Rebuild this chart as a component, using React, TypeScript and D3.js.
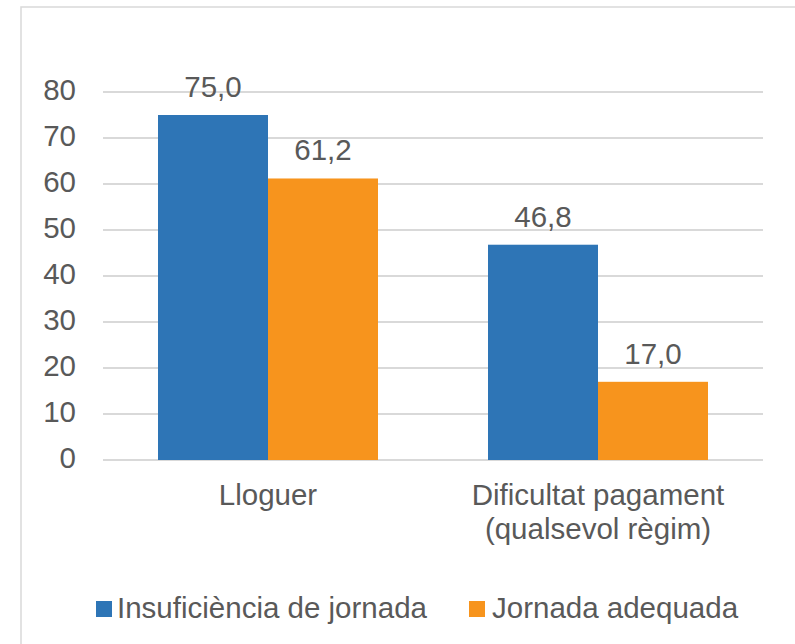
import React from "react";
import * as d3 from "d3";

const categories = ["Lloguer", "Dificultat pagament|(qualsevol règim)"];
const seriesNames = ["Insuficiència de jornada", "Jornada adequada"];
const insuficiencia = [75.0, 46.8];
const adequada = [61.2, 17.0];
const yTicks = [0, 10, 20, 30, 40, 50, 60, 70, 80];
const colors = ["#2E75B6", "#F7941D"];

const W = 795;
const H = 644;
const plot = { left: 103, right: 763, top: 92, bottom: 460 };
const FONT = "'Liberation Sans', Arial, sans-serif";
const TXT = "#595959";
const FS = 29.5;

export default function App() {
  const x0 = d3.scaleBand().domain(categories).range([plot.left, plot.right]).paddingInner(1 / 3).paddingOuter(1 / 6);
  const x1 = d3.scaleBand().domain(seriesNames).range([0, x0.bandwidth()]);
  const y = d3.scaleLinear().domain([0, 80]).range([plot.bottom, plot.top]);
  const series = [insuficiencia, adequada];
  const fmt = (v: number) => v.toFixed(1).replace(".", ",");

  return (
    <svg width={W} height={H} style={{ position: "absolute", left: 0, top: 0, background: "#fff" }} fontFamily={FONT}>
      <rect x={21} y={7} width={W} height={H} fill="#fff" stroke="#d9d9d9" strokeWidth={1.5} />
      {yTicks.map((t) => (
        <g key={t}>
          <line x1={plot.left} x2={plot.right} y1={y(t)} y2={y(t)} stroke="#d9d9d9" strokeWidth={2} />
          <text x={76} y={y(t) + 8} textAnchor="end" fontSize={FS} fill={TXT}>{t}</text>
        </g>
      ))}
      {categories.map((c, ci) => (
        <g key={c}>
          {seriesNames.map((s, si) => {
            const v = series[si][ci];
            const bx = (x0(c) ?? 0) + (x1(s) ?? 0);
            return (
              <g key={s}>
                <rect x={bx} y={y(v)} width={x1.bandwidth()} height={y(0) - y(v)} fill={colors[si]} />
                <text x={bx + x1.bandwidth() / 2} y={y(v) - 18} textAnchor="middle" fontSize={FS} fill={TXT}>{fmt(v)}</text>
              </g>
            );
          })}
          {c.split("|").map((line, li) => (
            <text key={li} x={(x0(c) ?? 0) + x0.bandwidth() / 2} y={505 + li * 34} textAnchor="middle" fontSize={FS} fill={TXT}>{line}</text>
          ))}
        </g>
      ))}
      <g>
        <rect x={96} y={601} width={16} height={16} fill={colors[0]} />
        <text x={117} y={618} fontSize={FS} fill={TXT}>{seriesNames[0]}</text>
        <rect x={469} y={601} width={16} height={16} fill={colors[1]} />
        <text x={492} y={618} fontSize={FS} fill={TXT}>{seriesNames[1]}</text>
      </g>
    </svg>
  );
}
